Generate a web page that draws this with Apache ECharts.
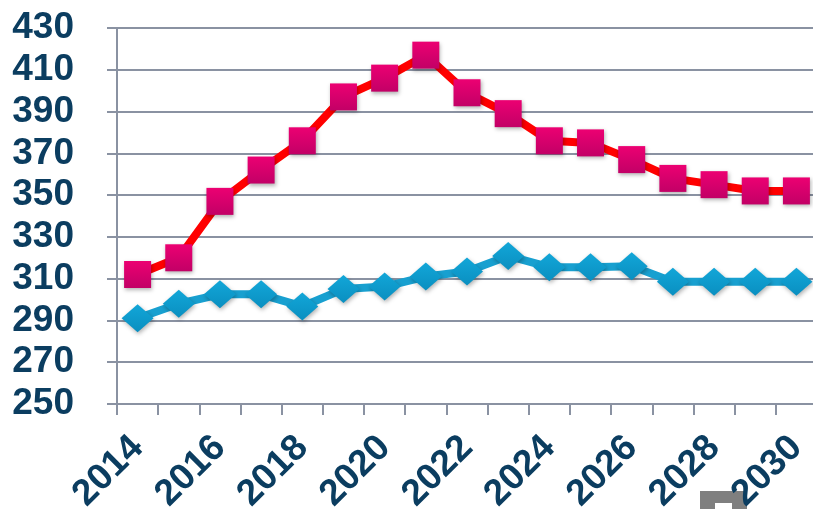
<!DOCTYPE html>
<html>
<head>
<meta charset="utf-8">
<script src="https://cdn.jsdelivr.net/npm/echarts@6/dist/echarts.min.js"></script>
<style>
html,body{margin:0;padding:0;background:#fff;}
#chart{width:813px;height:509px;}
</style>
</head>
<body>
<div id="chart"></div>
<script>
var years = ['2014','2015','2016','2017','2018','2019','2020','2021','2022','2023','2024','2025','2026','2027','2028','2029','2030'];
var redValues = [312, 320, 347, 362, 376, 397, 406, 417, 399, 389, 376, 375, 367, 358, 355, 352, 352];
var blueValues = [291, 298, 302.5, 302.5, 296.7, 305, 306.2, 311, 313.4, 320.9, 315.5, 315.5, 316, 308.5, 308.5, 308.5, 308.5];
var yTicks = {min: 250, max: 430, interval: 20};

var chart = echarts.init(document.getElementById('chart'));
var labelColor = '#0b3d60';
var gridColor = '#8a92a2';
chart.setOption({
  animation: false,
  grid: {left: 117, right: -4, top: 28, bottom: 105, containLabel: false, outerBoundsMode: 'none'},
  xAxis: {
    type: 'category',
    data: years,
    boundaryGap: true,
    axisLine: {show: true, lineStyle: {color: gridColor, width: 2}},
    axisTick: {show: true, alignWithLabel: false, interval: 0, length: 11, lineStyle: {color: gridColor, width: 2}},
    axisLabel: {
      interval: 1, rotate: 45, margin: 38,
      color: labelColor, fontFamily: 'Liberation Sans, Arial, sans-serif',
      fontWeight: 'bold', fontSize: 37
    },
    splitLine: {show: false}
  },
  yAxis: {
    type: 'value',
    min: yTicks.min, max: yTicks.max, interval: yTicks.interval,
    axisLine: {show: true, lineStyle: {color: gridColor, width: 2}},
    axisTick: {show: true, length: 10, lineStyle: {color: gridColor, width: 2}},
    axisLabel: {
      margin: 43, color: labelColor, fontFamily: 'Liberation Sans, Arial, sans-serif',
      fontWeight: 'bold', fontSize: 37
    },
    splitLine: {show: true, lineStyle: {color: gridColor, width: 2}}
  },
  series: [
    {
      name: 'red', type: 'line', data: redValues,
      symbol: 'rect', symbolSize: 27, showAllSymbol: true,
      lineStyle: {color: '#ff0000', width: 8},
      itemStyle: {
        color: new echarts.graphic.LinearGradient(0, 0, 0, 1, [
          {offset: 0, color: '#ec0072'}, {offset: 1, color: '#c20066'}
        ]),
        shadowColor: 'rgba(0,0,0,0.3)', shadowBlur: 4, shadowOffsetX: 1, shadowOffsetY: 2
      },
      z: 3
    },
    {
      name: 'blue', type: 'line', data: blueValues,
      symbol: 'diamond', symbolSize: [32, 28], showAllSymbol: true,
      lineStyle: {color: '#18a0d0', width: 8},
      itemStyle: {
        color: new echarts.graphic.LinearGradient(0, 0, 0, 1, [
          {offset: 0, color: '#12a6d8'}, {offset: 1, color: '#0a8fc0'}
        ]),
        shadowColor: 'rgba(0,0,0,0.3)', shadowBlur: 4, shadowOffsetX: 1, shadowOffsetY: 2
      },
      z: 2
    }
  ],
  graphic: [
    {type: 'rect', left: 700, top: 491, shape: {width: 47, height: 20}, style: {fill: '#7f7f7f'}, z: -1},
    {type: 'rect', left: 715, top: 503, shape: {width: 17, height: 10}, style: {fill: '#ffffff'}, z: -1}
  ]
});
</script>
</body>
</html>
